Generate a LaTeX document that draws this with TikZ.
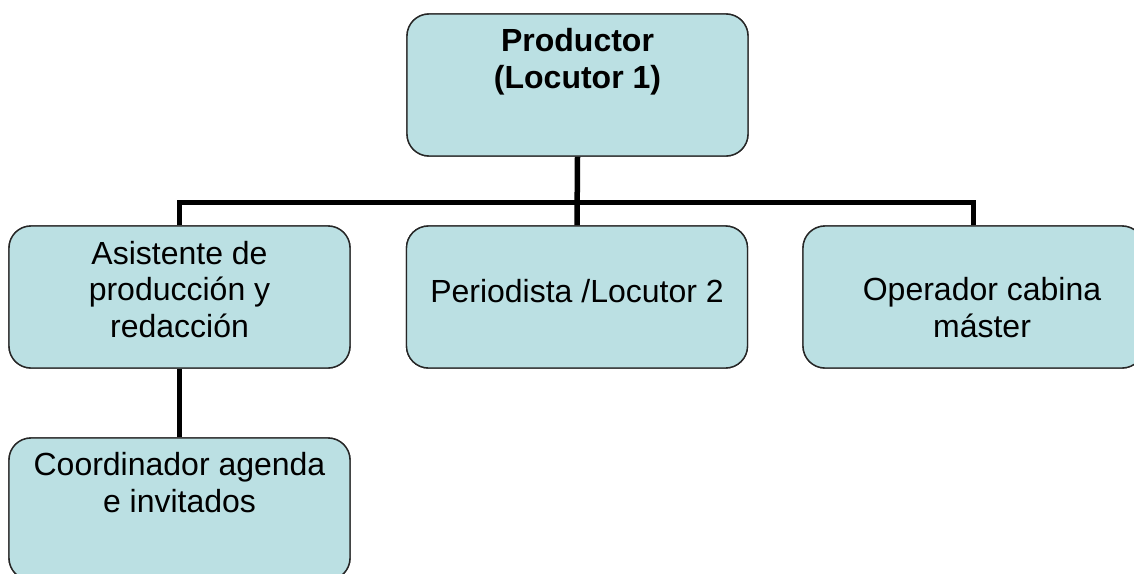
\documentclass[tikz,border=0pt]{standalone}
\usepackage{fontspec}
\setmainfont{Liberation Sans}
\begin{document}
\begin{tikzpicture}[x=1pt,y=-1pt,
  box/.style={draw=black!85,line width=1.4pt,fill=boxfill,rounded corners=22pt,
    minimum width=341pt,minimum height=142pt,inner sep=0pt},
  lbl/.style={anchor=base,align=center,inner sep=0pt,
    font=\fontsize{32}{36.5}\selectfont},
  conn/.style={line width=5.5pt,draw=black,line join=miter}]
\definecolor{boxfill}{HTML}{BBE0E3}
\useasboundingbox (0,0) rectangle (1134,573);
\clip (0,0) rectangle (1134,573);
\fill[white] (0,0) rectangle (1134,573);
% boxes
\node[box] (top) at (577.5,85) {};
\node[box] (left) at (179.5,297) {};
\node[box] (mid) at (577,297) {};
\node[box] (right) at (973.5,297) {};
\node[box] (bot) at (179.5,509) {};
% connectors
\coordinate (busL) at (179.5,202.5);
\coordinate (busR) at (973.5,202.5);
\draw[conn] (top.south) -- (mid.north);
\draw[conn] (left.north) -- (busL) -- (busR) -- (right.north);
\draw[conn] (left.south) -- (bot.north);
% redraw boxes over connector ends
\node[box] at (577.5,85) {};
\node[box] at (179.5,297) {};
\node[box] at (577,297) {};
\node[box] at (973.5,297) {};
\node[box] at (179.5,509) {};
% labels (anchor base = baseline of last line)
\node[lbl,font=\fontsize{32}{36.5}\selectfont\bfseries] (ttop) at (577.5,88) {Productor\\(Locutor 1)};
\node[lbl] (tleft) at (179.5,337) {Asistente de\\producción y\\redacción};
\node[lbl] (tmid) at (577,302) {Periodista /Locutor 2};
\node[lbl] (tright) at (982,337) {Operador cabina\\máster};
\node[lbl] (tbot) at (179.5,512) {Coordinador agenda\\e invitados};
\end{tikzpicture}
\end{document}
